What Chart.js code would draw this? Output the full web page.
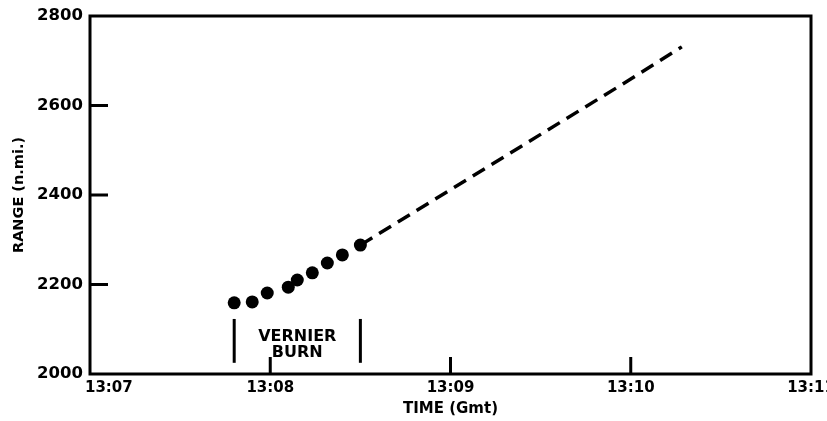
<!DOCTYPE html>
<html>
<head>
<meta charset="utf-8">
<script src="https://cdn.jsdelivr.net/npm/chart.js@4/dist/chart.umd.min.js"></script>
<style>
  html, body { margin: 0; padding: 0; background: #fff; }
  #wrap { width: 827px; height: 421px; }
</style>
</head>
<body>
<div id="wrap"><canvas id="rangeChart" width="827" height="421"></canvas></div>
<script>
// measured range points during the burn
const trackTimes = ["13:07:48", "13:07:54", "13:07:59", "13:08:06", "13:08:09", "13:08:14", "13:08:19", "13:08:24", "13:08:30"];
const trackRange = [2159, 2161, 2181, 2194, 2210, 2226, 2248, 2266, 2288];

// dashed extrapolation after burn
const extrapTimes = ["13:08:30", "13:09:00", "13:10:00", "13:10:17"];
const extrapRange = [2288, 2412, 2659, 2731];

// vernier burn start / end markers
const burnTimes = ["13:07:48", "13:08:30"];
const burnMarkRange = [2025, 2123];
const burnLabel = ["VERNIER", "BURN"];
const burnLabelRange = [2083, 2047];

const xTicks = ["13:07", "13:08", "13:09", "13:10", "13:11"];
const yTicks = [2000, 2200, 2400, 2600, 2800];

// "13:07:48" -> minutes after 13:00
function toMin(t) {
    const p = t.split(":").map(Number);
    return (p[0] - 13) * 60 + p[1] + (p[2] || 0) / 60;
}
function pts(times, vals) {
    return times.map((t, i) => ({ x: toMin(t), y: vals[i] }));
}

const FONT = "'DejaVu Sans', 'Liberation Sans', sans-serif";
const xMin = toMin(xTicks[0]), xMax = toMin(xTicks[xTicks.length - 1]);

const datasets = [
    {
        data: pts(trackTimes, trackRange),
        showLine: false,
        pointRadius: 6.5,
        pointBackgroundColor: "#000",
        pointBorderWidth: 0
    },
    {
        data: pts(extrapTimes, extrapRange),
        showLine: true,
        borderColor: "#000",
        borderWidth: 3.5,
        borderDash: [14, 8],
        pointRadius: 0
    }
];
burnTimes.forEach(t => {
    datasets.push({
        data: burnMarkRange.map(v => ({ x: toMin(t), y: v })),
        showLine: true,
        borderColor: "#000",
        borderWidth: 3,
        pointRadius: 0
    });
});

// box, inward ticks, burn label, shifted first x label
const framePlugin = {
    id: "frame",
    beforeDraw(chart) {
        const xs = chart.scales.x;
        const items = xs.getLabelItems ? xs.getLabelItems() : null;
        if (items && items.length) {
            items[0].options.textAlign = "left";
            items[0].options.translation[0] = chart.chartArea.left - 5;
        }
    },
    afterDatasetsDraw(chart) {
        const { ctx, chartArea: a, scales: { x, y } } = chart;
        ctx.save();
        ctx.strokeStyle = "#000";
        ctx.lineWidth = 3;
        ctx.strokeRect(a.left, a.top, a.right - a.left, a.bottom - a.top);

        ctx.beginPath();
        x.ticks.forEach(t => {
            if (t.value <= x.min || t.value >= x.max) return;
            const px = x.getPixelForValue(t.value);
            ctx.moveTo(px, a.bottom);
            ctx.lineTo(px, a.bottom - 17);
        });
        y.ticks.forEach(t => {
            if (t.value <= y.min || t.value >= y.max) return;
            const py = y.getPixelForValue(t.value);
            ctx.moveTo(a.left, py);
            ctx.lineTo(a.left + 18, py);
        });
        ctx.stroke();

        const cx = x.getPixelForValue((toMin(burnTimes[0]) + toMin(burnTimes[1])) / 2);
        ctx.fillStyle = "#000";
        ctx.font = "bold 16px " + FONT;
        ctx.textAlign = "center";
        ctx.textBaseline = "middle";
        burnLabel.forEach((s, i) => ctx.fillText(s, cx, y.getPixelForValue(burnLabelRange[i])));
        ctx.restore();
    }
};

new Chart(document.getElementById("rangeChart"), {
    type: "scatter",
    data: { datasets },
    options: {
        responsive: false,
        animation: false,
        events: [],
        layout: { padding: { top: 16, right: 16, left: 0, bottom: 0 } },
        plugins: { legend: { display: false }, tooltip: { enabled: false } },
        scales: {
            x: {
                type: "linear",
                min: xMin,
                max: xMax,
                afterBuildTicks: s => { s.ticks = xTicks.map(t => ({ value: toMin(t) })); },
                ticks: {
                    callback: (v, i) => xTicks[i],
                    color: "#000",
                    font: { family: FONT, size: 15, weight: "bold" },
                    padding: 5,
                    maxRotation: 0,
                    autoSkip: false
                },
                grid: { display: false, drawTicks: false },
                border: { display: false },
                title: {
                    display: true,
                    text: "TIME (Gmt)",
                    color: "#000",
                    font: { family: FONT, size: 15, weight: "bold" },
                    padding: { top: 0, bottom: 3 }
                },
                afterFit: s => { s.height = 47; s.paddingLeft = 0; s.paddingRight = 0; }
            },
            y: {
                min: yTicks[0],
                max: yTicks[yTicks.length - 1],
                afterBuildTicks: s => { s.ticks = yTicks.map(v => ({ value: v })); },
                ticks: {
                    callback: v => String(v),
                    color: "#000",
                    font: { family: FONT, size: 16.5, weight: "bold" },
                    padding: 7
                },
                grid: { display: false, drawTicks: false },
                border: { display: false },
                title: {
                    display: true,
                    text: "RANGE (n.mi.)",
                    color: "#000",
                    font: { family: FONT, size: 14.5, weight: "bold" },
                    padding: { top: 11, bottom: 0 }
                },
                afterFit: s => { s.width = 90; s.paddingTop = 0; s.paddingBottom = 0; }
            }
        }
    },
    plugins: [framePlugin]
});
</script>
</body>
</html>
